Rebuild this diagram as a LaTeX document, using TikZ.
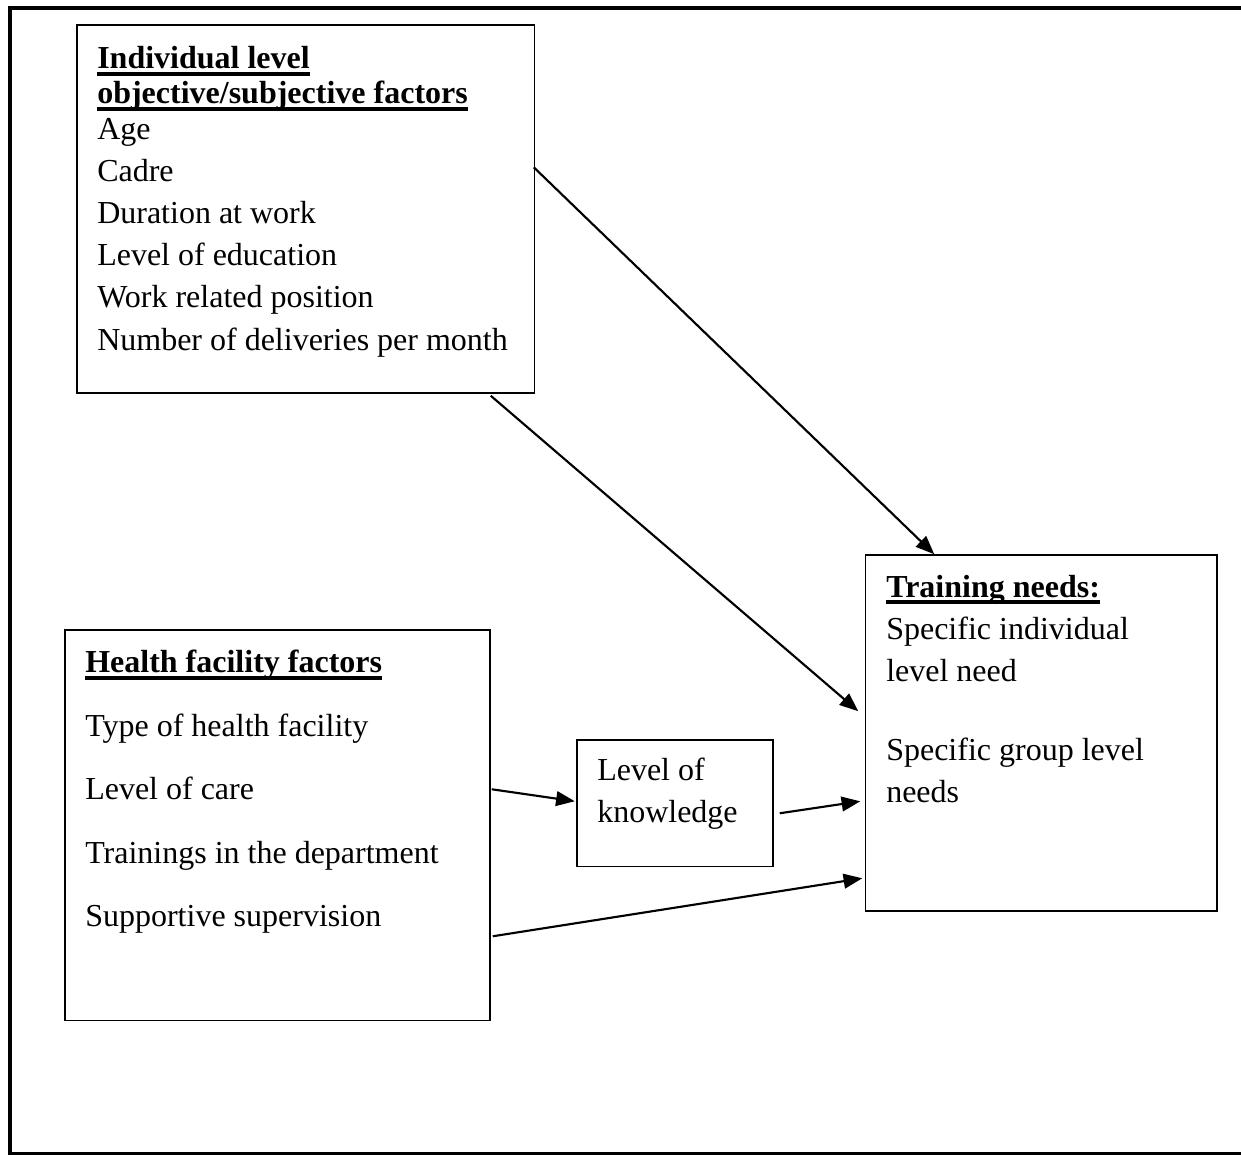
\documentclass[tikz,border=0pt]{standalone}
\usepackage{fontspec}
\setmainfont{Liberation Serif}
\usetikzlibrary{arrows.meta,fit,calc}
\newsavebox\ulbox
\newcommand\myul[1]{\sbox\ulbox{#1}\rlap{\rule[-5.4pt]{\wd\ulbox}{2.8pt}}\usebox\ulbox}
\begin{document}
\begin{tikzpicture}[x=0.75pt, y=-0.75pt,
  font=\fontsize{24pt}{31.5pt}\selectfont,
  box/.style={draw, line width=1.1pt, inner sep=0pt, rectangle},
  txt/.style={inner sep=0pt, anchor=base west},
  arr/.style={line width=1.6pt, -{Triangle[length=14pt,width=11pt]}}]
\useasboundingbox (0,0) rectangle (1241,1155);
% outer frame
\draw[line width=3pt] (1250,8.5) -- (9.5,8.5) -- (9.5,1153.5) -- (1250,1153.5);
% boxes
\node[box, fit={(77,25) (534.5,393)}] (ind) {};
\node[box, fit={(865.5,555) (1217,911)}] (train) {};
\node[box, fit={(65,630) (490,1020.5)}] (hf) {};
\node[box, fit={(577,740) (773,866.5)}] (know) {};
% individual level texts
\node[txt] (i1) at (97,69) {\myul{\bfseries Individual level}};
\node[txt] (i2) at (97,104) {\myul{\bfseries objective/subjective factors}};
\node[txt] (i3) at (97,140) {Age};
\node[txt] (i4) at (97,182) {Cadre};
\node[txt] (i5) at (97,224) {Duration at work};
\node[txt] (i6) at (97,266) {Level of education};
\node[txt] (i7) at (97,308) {Work related position};
\node[txt] (i8) at (97,350) {Number of deliveries per month};
% health facility texts
\node[txt] (h1) at (85,672.5) {\myul{\bfseries Health facility factors}};
\node[txt] (h2) at (85,736) {Type of health facility};
\node[txt] (h3) at (85,799.5) {Level of care};
\node[txt] (h4) at (85,863) {Trainings in the department};
\node[txt] (h5) at (85,926.5) {Supportive supervision};
% training needs texts
\node[txt] (t1) at (886,597) {\myul{\bfseries Training needs:}};
\node[txt] (t2) at (886,639) {Specific individual};
\node[txt] (t3) at (886,681) {level need};
\node[txt] (t4) at (886,760) {Specific group level};
\node[txt] (t5) at (886,802) {needs};
% knowledge texts
\node[txt] (k1) at (597,780) {Level of};
\node[txt] (k2) at (597,822) {knowledge};
% arrows
\draw[arr] ($(ind.north east)+(-1.5,143)$) -- ($(train.north west)+(69.5,0)$);
\draw[arr] ($(ind.south east)+(-44.5,2)$) -- ($(train.north west)+(-6.5,157)$);
\draw[arr] ($(hf.north east)+(1,160)$) -- ($(know.north west)+(-1.5,62)$);
\draw[arr] ($(know.north east)+(6,74)$) -- ($(train.north west)+(-4.5,247)$);
\draw[arr] ($(hf.north east)+(2,307)$) -- ($(train.north west)+(-2.5,324)$);
\end{tikzpicture}
\end{document}
